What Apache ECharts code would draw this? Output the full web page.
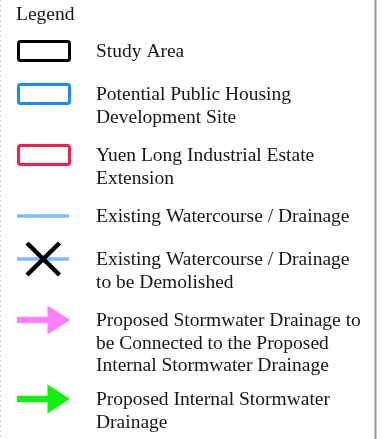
<!DOCTYPE html>
<html>
<head>
<meta charset="utf-8">
<title>Legend</title>
<script src="https://cdn.jsdelivr.net/npm/echarts/dist/echarts.min.js"></script>
<style>
  html, body { margin: 0; padding: 0; background: #fff; }
  #legend-chart { width: 383px; height: 439px; }
</style>
</head>
<body>
<div id="legend-chart"></div>
<script>
let legendTitle = "Legend";
let itemLabels = [
  ["Study Area"],
  ["Potential Public Housing", "Development Site"],
  ["Yuen Long Industrial Estate", "Extension"],
  ["Existing Watercourse / Drainage"],
  ["Existing Watercourse / Drainage", "to be Demolished"],
  ["Proposed Stormwater Drainage to", "be Connected to the Proposed", "Internal Stormwater Drainage"],
  ["Proposed Internal Stormwater", "Drainage"]
];
let itemSymbols = ["box", "box", "box", "line", "lineCross", "arrow", "arrow"];
let itemColors = ["#000000", "#1a8cff", "#ff1a4d", "#7dbcff", "#7dbcff", "#ff80f8", "#12f012"];

let font = "19.5px 'Liberation Serif', 'Times New Roman', serif";
let textColor = "#151515";
let lineH = 22.5;

// row position: each row steps down by a gap plus its number of text lines
let rows = [];
let y = 51;
for (let i = 0; i < itemLabels.length; i++) {
  rows.push([0, y, i]);
  y += 25 + 18 * itemLabels[i].length;
}

function symbolShape(kind, color, x, cy) {
  if (kind === "box") {
    return [{
      type: "rect",
      shape: { x: x + 18.5, y: cy - 9.5, width: 51, height: 19, r: 2 },
      style: { fill: "none", stroke: color, lineWidth: 3 }
    }];
  }
  let waterLine = {
    type: "line",
    shape: { x1: x + 17, y1: cy, x2: x + 69, y2: cy },
    style: { stroke: color, lineWidth: 3.5 }
  };
  if (kind === "line") return [waterLine];
  if (kind === "lineCross") {
    return [
      waterLine,
      { type: "line", shape: { x1: x + 27, y1: cy - 16, x2: x + 59.5, y2: cy + 16 }, style: { stroke: "#000", lineWidth: 4.5 } },
      { type: "line", shape: { x1: x + 59.5, y1: cy - 16, x2: x + 27, y2: cy + 16 }, style: { stroke: "#000", lineWidth: 4.5 } }
    ];
  }
  return [{
    type: "polygon",
    shape: {
      points: [
        [x + 17, cy - 3.3], [x + 47.5, cy - 3.3], [x + 47.5, cy - 14.5],
        [x + 70, cy], [x + 47.5, cy + 14.5], [x + 47.5, cy + 3.3], [x + 17, cy + 3.3]
      ]
    },
    style: { fill: color }
  }];
}

let myChart = echarts.init(document.getElementById("legend-chart"));
let option = {
  backgroundColor: "#ffffff",
  animation: false,
  grid: { left: 0, right: 0, top: 0, bottom: 0 },
  xAxis: { type: "value", min: 0, max: 383, show: false },
  yAxis: { type: "value", min: 0, max: 439, inverse: true, show: false },
  graphic: [
    { type: "line", shape: { x1: 0.5, y1: 0, x2: 0.5, y2: 439 }, style: { stroke: "#d4d4d4", lineWidth: 1, lineDash: [2, 3] } },
    { type: "line", shape: { x1: 375.5, y1: 0, x2: 375.5, y2: 439 }, style: { stroke: "#c9c9c9", lineWidth: 3 } },
    { type: "line", shape: { x1: 375.5, y1: 0, x2: 375.5, y2: 439 }, style: { stroke: "#9a9a9a", lineWidth: 1 } },
    {
      type: "text",
      left: 16,
      top: 5,
      style: { text: legendTitle, font: font, fill: textColor }
    }
  ],
  series: [
    {
      type: "custom",
      silent: true,
      data: rows,
      renderItem: function (params, api) {
        let idx = api.value(2);
        let p = api.coord([api.value(0), api.value(1)]);
        let children = symbolShape(itemSymbols[idx], itemColors[idx], p[0], p[1]);
        itemLabels[idx].forEach(function (txt, k) {
          children.push({
            type: "text",
            x: p[0] + 96,
            y: p[1] + 1 + k * lineH,
            style: { text: txt, font: font, fill: textColor, verticalAlign: "middle", align: "left" }
          });
        });
        return { type: "group", children: children };
      }
    }
  ]
};
myChart.setOption(option, true);
window.addEventListener("resize", () => {
  myChart.resize();
});
</script>
</body>
</html>
